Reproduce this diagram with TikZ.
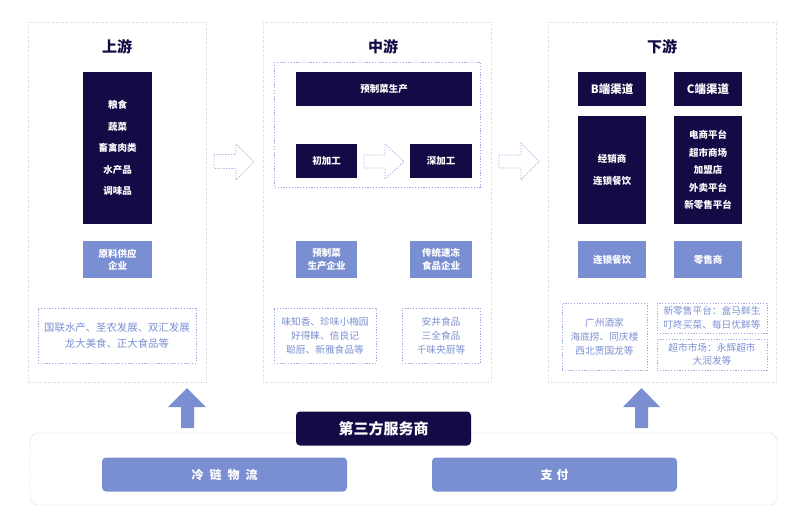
\documentclass[tikz,border=0pt]{standalone}
\usepackage{fontspec}
\setmainfont{Noto Sans CJK SC}
\usetikzlibrary{positioning}

\definecolor{navy}{HTML}{140A45}
\definecolor{lblue}{HTML}{7A8FD2}
\definecolor{dotgray}{HTML}{D2D2D2}
\definecolor{dotblue}{HTML}{9EABE3}

\tikzset{
    panel/.style={draw=dotgray, line width=0.9pt, dash pattern=on 0.9pt off 1.6pt},
    noteline/.style={draw=dotblue, line width=0.8pt, dash pattern=on 1.2pt off 1.6pt},
    darkbox/.style={fill=navy, text=white, align=center, inner sep=0pt,
        font=\bfseries\fontsize{9.5}{12}\selectfont},
    lightbox/.style={fill=lblue, text=white, align=center, inner sep=0pt,
        font=\bfseries\fontsize{9.5}{12.5}\selectfont},
    notebox/.style={noteline, text=lblue, align=center, inner sep=0pt,
        font=\fontsize{9.7}{14}\selectfont},
    stagetitle/.style={text=navy, font=\bfseries\fontsize{15}{15}\selectfont},
    hollowarrow/.style={noteline},
    uparrow/.style={fill=lblue},
}

\begin{document}
\begin{tikzpicture}[x=1pt, y=-1pt]
    \useasboundingbox (0,0) rectangle (800,528);

    \begin{scope}
        \draw[panel] (28,22) rectangle (206,382);
        \node[stagetitle] (upt) at (117,47) {上游};
        \node[darkbox, minimum width=69, minimum height=152,
            font=\bfseries\fontsize{9.5}{21.5}\selectfont] (raw) at (117.5,148)
            {粮食\\蔬菜\\畜禽肉类\\水产品\\调味品};
        \node[lightbox, minimum width=69, minimum height=37] (supply) at (117.5,259.5)
            {原料供应\\企业};
        \node[notebox, minimum width=158, minimum height=55,
            font=\fontsize{10.4}{15.5}\selectfont] (upnote) at (117,335.5)
            {国联水产、圣农发展、双汇发展\\龙大美食、正大食品等};
    \end{scope}

    \draw[hollowarrow] (214,154.5) -- (236,154.5) -- (236,144) -- (254,162)
        -- (236,180) -- (236,168.5) -- (214,168.5) -- cycle;

    \begin{scope}
        \draw[panel] (263,22) rectangle (491,382);
        \node[stagetitle] (midt) at (383,47) {中游};
        \draw[noteline] (274,62) rectangle (480,187);
        \node[darkbox, minimum width=176, minimum height=34] (make) at (384,89) {预制菜生产};
        \node[darkbox, minimum width=61, minimum height=34] (pre) at (326.5,161) {初加工};
        \node[darkbox, minimum width=62, minimum height=34] (deep) at (441,161) {深加工};
        \draw[hollowarrow] (364,155) -- (385,155) -- (385,144) -- (404,161.5)
            -- (385,179) -- (385,168) -- (364,168) -- cycle;
        \node[lightbox, minimum width=61, minimum height=37] (prefirm) at (326.5,259.5)
            {预制菜\\生产企业};
        \node[lightbox, minimum width=62, minimum height=37] (frozen) at (441,259.5)
            {传统速冻\\食品企业};
        \node[notebox, minimum width=102, minimum height=55] (prenote) at (325,335.5)
            {味知香、珍味小梅园\\好得睐、信良记\\聪厨、新雅食品等};
        \node[notebox, minimum width=78, minimum height=55] (frozennote) at (441,335.5)
            {安井食品\\三全食品\\千味央厨等};
    \end{scope}

    \draw[hollowarrow] (499,155) -- (521,155) -- (521,143) -- (539,161.5)
        -- (521,180) -- (521,168) -- (499,168) -- cycle;

    \begin{scope}
        \draw[panel] (548,22) rectangle (776,382);
        \node[stagetitle] (downt) at (662,47) {下游};
        \node[darkbox, minimum width=68, minimum height=34,
            font=\bfseries\fontsize{11.5}{12}\selectfont] (bside) at (612,89) {B端渠道};
        \node[darkbox, minimum width=68, minimum height=34,
            font=\bfseries\fontsize{11.5}{12}\selectfont] (cside) at (708,89) {C端渠道};
        \node[darkbox, minimum width=68, minimum height=108,
            font=\bfseries\fontsize{9.5}{22}\selectfont] (blist) at (612,170)
            {经销商\\连锁餐饮};
        \node[darkbox, minimum width=68, minimum height=108,
            font=\bfseries\fontsize{9.5}{17.5}\selectfont] (clist) at (708,170)
            {电商平台\\超市商场\\加盟店\\外卖平台\\新零售平台};
        \node[lightbox, minimum width=68, minimum height=37] (chain) at (612,259.5) {连锁餐饮};
        \node[lightbox, minimum width=68, minimum height=37] (retail) at (708,259.5) {零售商};
        \node[notebox, minimum width=85, minimum height=67] (chainnote) at (604.5,336.5)
            {广州酒家\\海底捞、同庆楼\\西北贾国龙等};
        \node[notebox, minimum width=110, minimum height=30,
            font=\fontsize{9.7}{13.5}\selectfont] (newnote) at (712,318)
            {新零售平台：盒马鲜生\\叮咚买菜、每日优鲜等};
        \node[notebox, minimum width=110, minimum height=31,
            font=\fontsize{9.7}{13.5}\selectfont] (marketnote) at (712,354.5)
            {超市市场：永辉超市\\大润发等};
    \end{scope}

    \fill[uparrow] (181,428) -- (181,407) -- (168,407) -- (187,388) -- (206,407)
        -- (194,407) -- (194,428) -- cycle;
    \fill[uparrow] (635,428) -- (635,407) -- (623,407) -- (641.5,388) -- (660,407)
        -- (648,407) -- (648,428) -- cycle;

    \draw[panel, rounded corners=8] (30,433) rectangle (777,505);
    \node[fill=navy, text=white, rounded corners=4, minimum width=175, minimum height=34,
        font=\bfseries\fontsize{15}{15}\selectfont] (third) at (383.5,428.5) {第三方服务商};
    \node[fill=lblue, text=white, rounded corners=4, minimum width=245, minimum height=34,
        font=\bfseries\fontsize{12}{12}\selectfont] (cold) at (224.5,474.5)
        {冷\hspace{6pt}链\hspace{6pt}物\hspace{6pt}流};
    \node[fill=lblue, text=white, rounded corners=4, minimum width=245, minimum height=34,
        font=\bfseries\fontsize{12}{12}\selectfont] (pay) at (554.5,474.5)
        {支\hspace{4pt}付};
\end{tikzpicture}
\end{document}
